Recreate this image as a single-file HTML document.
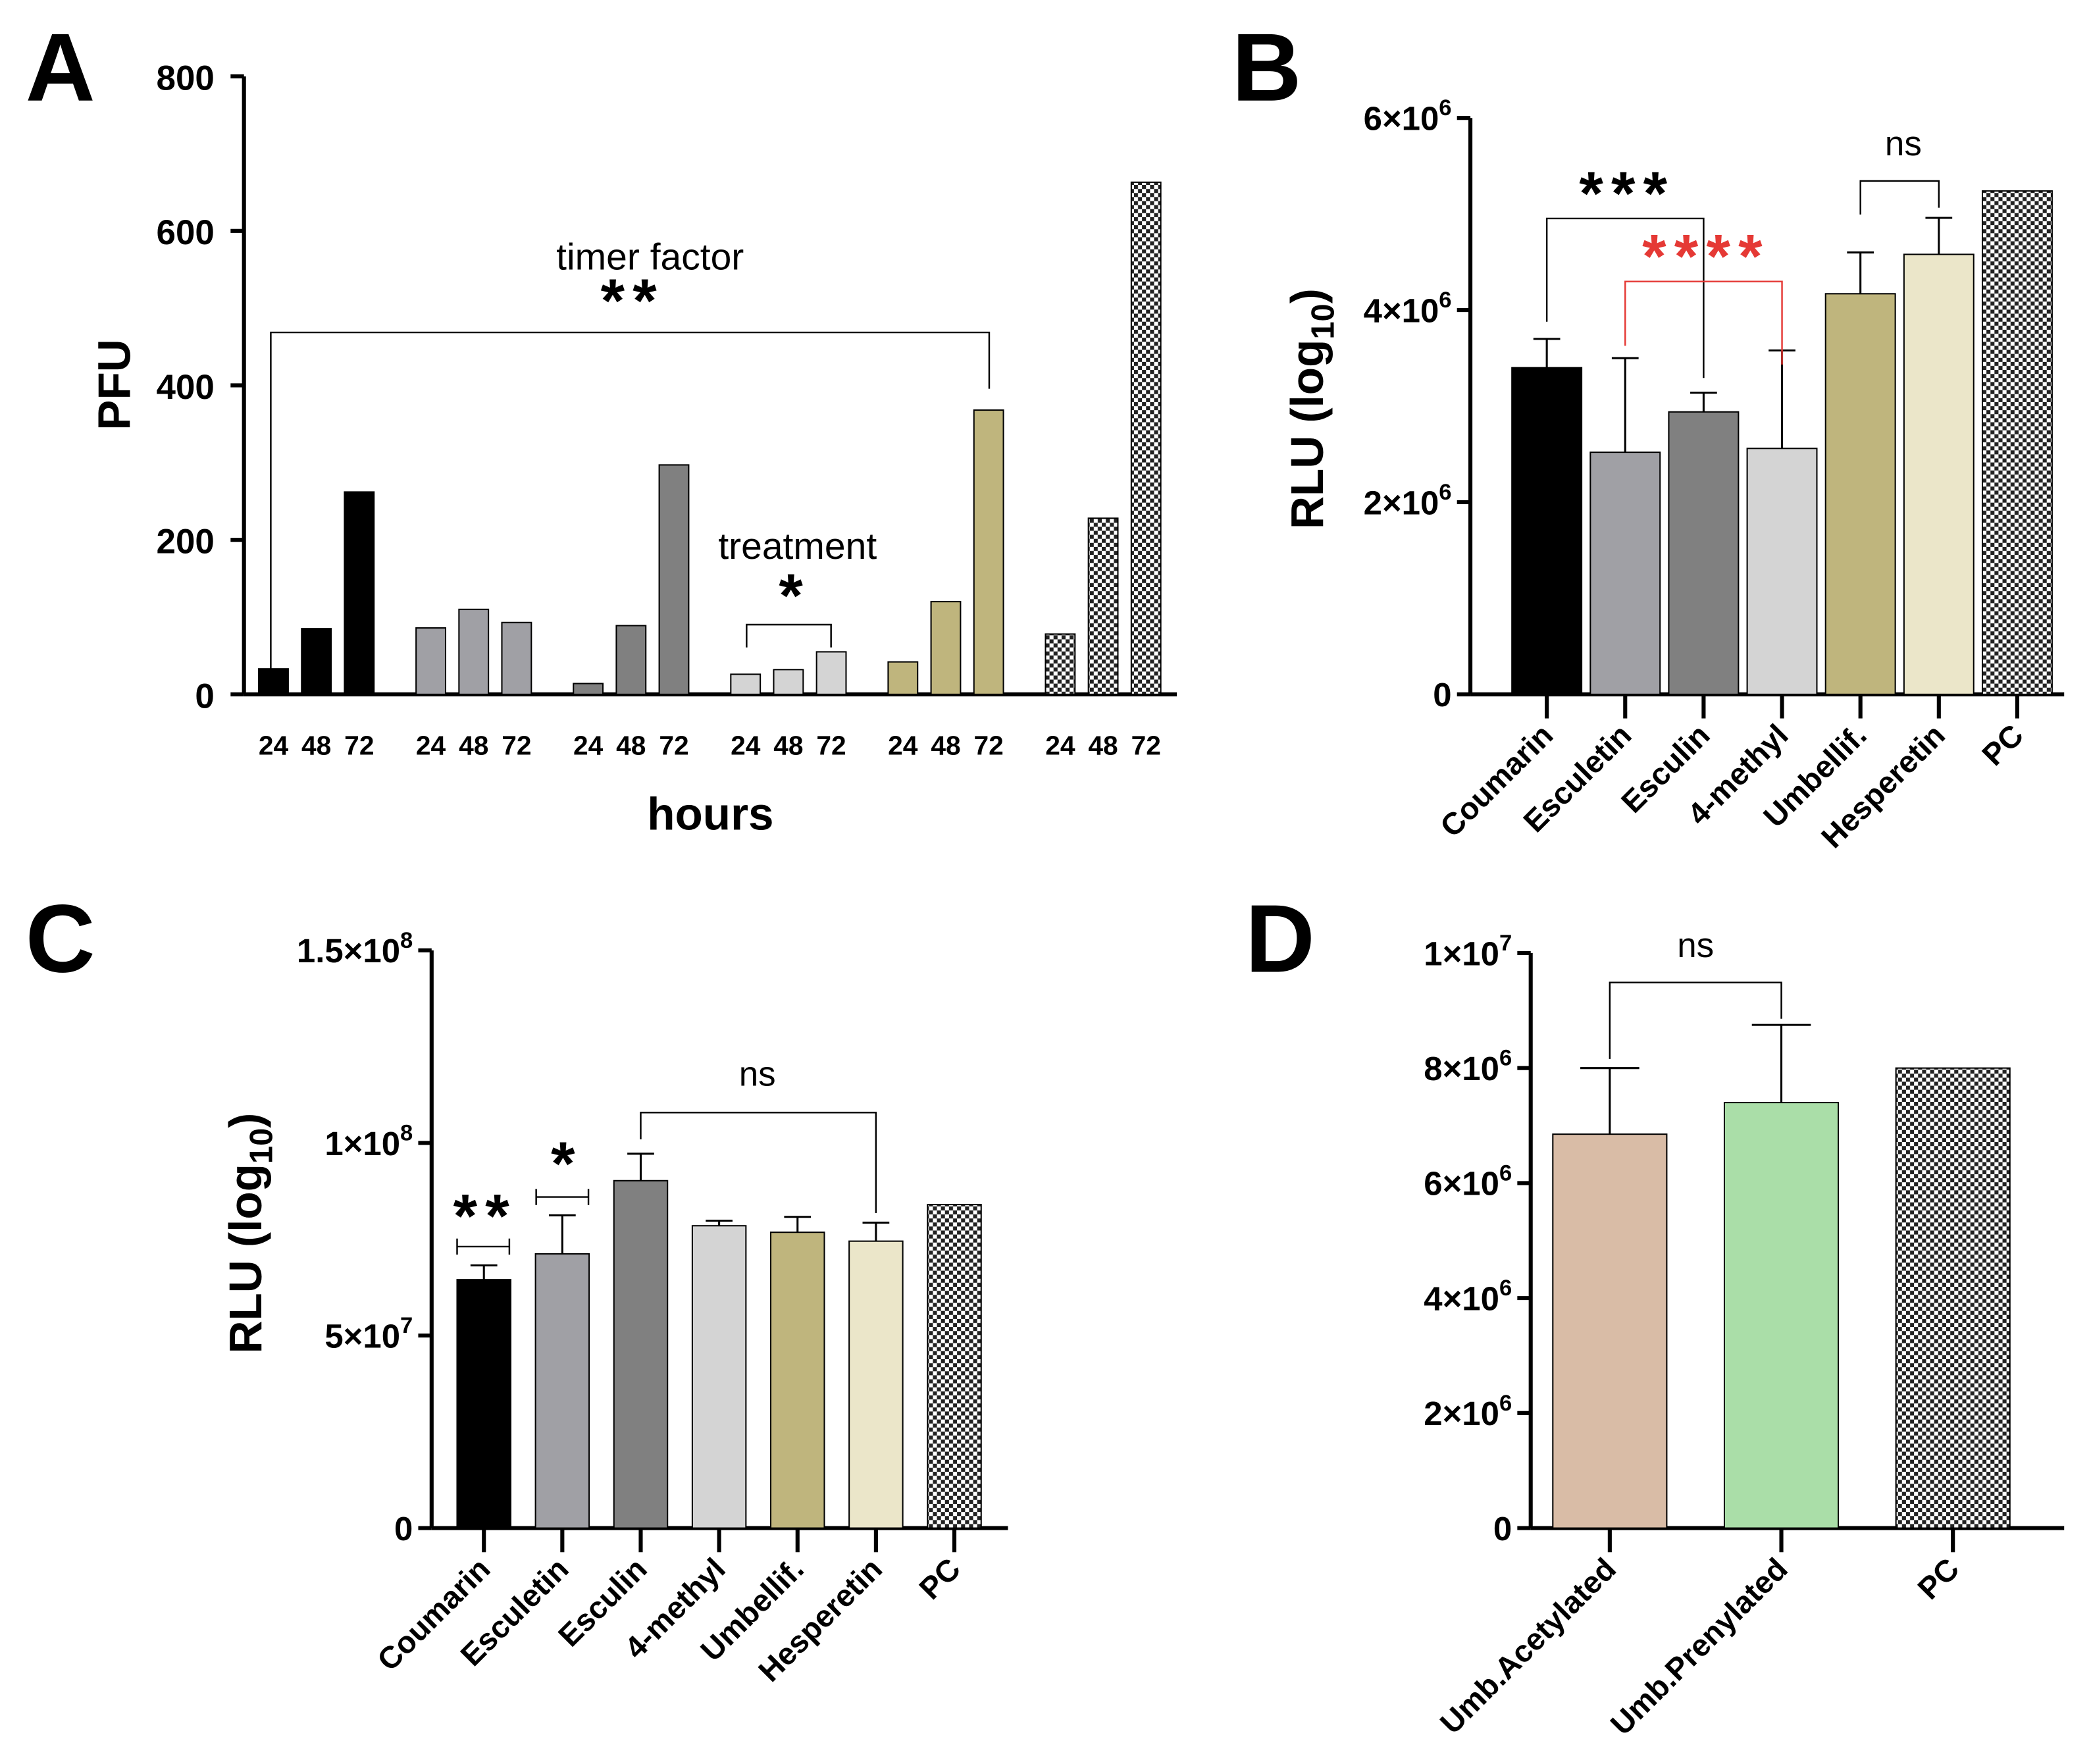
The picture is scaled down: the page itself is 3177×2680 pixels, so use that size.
<!DOCTYPE html>
<html><head><meta charset="utf-8"><style>
html,body{margin:0;padding:0;background:#fff}
svg{display:block;font-family:"Liberation Sans",Arial,sans-serif}
</style></head><body>
<svg id="fig" xmlns="http://www.w3.org/2000/svg" width="3177" height="2680" viewBox="0 0 1560 1316">
<defs>
<pattern id="chk" width="6" height="6" patternUnits="userSpaceOnUse">
<rect width="6" height="6" fill="#fff"/><rect width="3" height="3" fill="#222"/><rect x="3" y="3" width="3" height="3" fill="#222"/>
</pattern>
</defs>
</svg>
<script>
// ---- Panel A data ----
const aGroups=["g1","g2","g3","g4","g5","g6"];
const aHours=["24","48","72"];
const aValues=[[33,85,262],[86,110,93],[14,89,297],[26,32,55],[42,120,368],[78,228,663]];
const aTicks=[0,200,400,600,800];
// ---- Panel B data ----
const bCats=["Coumarin","Esculetin","Esculin","4-methyl","Umbellif.","Hesperetin","PC"];
const bValues=[3.4,2.52,2.94,2.56,4.17,4.58,5.24];
const bErr=[3.7,3.5,3.14,3.58,4.6,4.96,null];
const bTicks=[0,2,4,6];
const bTickMant=["0","2×10","4×10","6×10"];
const bTickExp=["","6","6","6"];
// ---- Panel C data ----
const cCats=["Coumarin","Esculetin","Esculin","4-methyl","Umbellif.","Hesperetin","PC"];
const cValues=[6.45,7.12,9.02,7.85,7.68,7.45,8.4];
const cErr=[6.82,8.12,9.72,7.98,8.08,7.93,null];
const cTicks=[0,5,10,15];
const cTickMant=["0","5×10","1×10","1.5×10"];
const cTickExp=["","7","8","8"];
// ---- Panel D data ----
const dCats=["Umb.Acetylated","Umb.Prenylated","PC"];
const dValues=[6.85,7.4,8.0];
const dErr=[8.0,8.75,null];
const dTicks=[0,2,4,6,8,10];
const dTickMant=["0","2×10","4×10","6×10","8×10","1×10"];
const dTickExp=["","6","6","6","6","7"];

const colors6=["#000","#a0a0a5","#808080","#d4d4d4","#bfb57d","#ebe6c9","url(#chk)"];
const svg=document.getElementById('fig');
const NS="http://www.w3.org/2000/svg";
function mk(tag,attrs,parent){const e=document.createElementNS(NS,tag);for(const k in attrs)e.setAttribute(k,attrs[k]);(parent||svg).appendChild(e);return e;}
function txt(s,x,y,size,opts,parent){opts=opts||{};const t=mk('text',{x:x,y:y,'font-size':size,'font-weight':opts.w||'bold','text-anchor':opts.a||'middle',fill:opts.fill||'#000'},parent);if(opts.ls)t.setAttribute('letter-spacing',opts.ls);if(opts.rot!==undefined)t.setAttribute('transform','rotate('+opts.rot+' '+x+' '+y+')');t.textContent=s;return t;}
function line(x1,y1,x2,y2,w,c,parent){return mk('line',{x1:x1,y1:y1,x2:x2,y2:y2,stroke:c||'#000','stroke-width':w||1},parent);}
function bracket(x1,y1,x2,y2,yTop,c,parent){return mk('polyline',{points:x1+','+y1+' '+x1+','+yTop+' '+x2+','+yTop+' '+x2+','+y2,fill:'none',stroke:c||'#000','stroke-width':1.2},parent);}

// ===== Panel A =====
(function(){
const g=mk('g',{});
const y0=518,yTop=57,max=800;const ys=v=>y0-(v/max)*(y0-yTop);
const xs=(gi,bi)=>204+gi*117.4+bi*32;
line(182,y0,878,y0,3,'#000',g);line(182,yTop,182,y0,3,'#000',g);
aTicks.forEach(t=>{line(172,ys(t),182,ys(t),3,'#000',g);const l=txt(String(t),160,ys(t)+10,26,{a:'end'},g);});
aGroups.forEach((gn,gi)=>{aHours.forEach((h,bi)=>{const v=aValues[gi][bi];const x=xs(gi,bi);
const r=mk('rect',{x:x-11,y:ys(v),width:22,height:y0-ys(v),fill:colors6[gi===5?6:gi],stroke:'#000','stroke-width':1},g);

const l=txt(h,x,563,20,{},g);});});
const ht=txt('hours',530,619,34,{},g);
const pt=txt('PFU',97,287,34,{rot:-90},g);
const L=txt('A',45,75,72,{},g);
bracket(202,500,738,290,248,'#000',g);
const tf=txt('timer factor',485,201,28,{w:'normal'},g);
txt('**',472,240,46,{ls:6},g);
bracket(557,483,620,483,466,'#000',g);
const tr=txt('treatment',595,417,28,{w:'normal'},g);
txt('*',590,460,46,{},g);
})();

function barPanel(name,cfg){
const g=mk('g',{});
const ys=v=>cfg.y0-(v/cfg.max)*(cfg.y0-cfg.yTop);
line(cfg.ax,cfg.y0,cfg.xEnd,cfg.y0,3,'#000',g);line(cfg.ax,cfg.yTop,cfg.ax,cfg.y0,3,'#000',g);
cfg.ticks.forEach((t,i)=>{line(cfg.ax-10,ys(t),cfg.ax,ys(t),3,'#000',g);
const l=txt(cfg.mant[i],cfg.ax-14,ys(t)+9,25,{a:'end'},g);
if(cfg.exp[i]){const sp=mk('tspan',{'font-size':17,dy:-11},l);sp.textContent=cfg.exp[i];}
});
cfg.cats.forEach((c,i)=>{const x=cfg.x0+i*cfg.dx;const v=cfg.values[i];
const r=mk('rect',{x:x-cfg.w/2,y:ys(v),width:cfg.w,height:cfg.y0-ys(v),fill:cfg.colors[i],stroke:'#000','stroke-width':1},g);

if(cfg.err[i]!=null){line(x,ys(v),x,ys(cfg.err[i]),1.5,'#000',g);line(x-cfg.cap,ys(cfg.err[i]),x+cfg.cap,ys(cfg.err[i]),1.5,'#000',g);}
line(x,cfg.y0,x,cfg.y0+18,3,'#000',g);
const l=txt(c,x+6,cfg.y0+32,23,{a:'end',rot:-45},g);});
const yt=txt('RLU (log',0,0,34,{rot:-90},g);yt.setAttribute('x',cfg.ylx);yt.setAttribute('y',cfg.yly);yt.setAttribute('transform','rotate(-90 '+cfg.ylx+' '+cfg.yly+')');
const sub=mk('tspan',{'font-size':24,dy:8},yt);sub.textContent='10';const cl=mk('tspan',{dy:-8},yt);cl.textContent=')';

return {g,ys,xs:i=>cfg.x0+i*cfg.dx};
}

// ===== Panel B =====
(function(){
const P=barPanel('panel-b',{y0:518,yTop:88,max:6,ax:1097,xEnd:1540,x0:1154,dx:58.5,w:52,cap:10,cats:bCats,values:bValues,err:bErr,ticks:bTicks,mant:bTickMant,exp:bTickExp,colors:colors6,ylx:987,yly:305});
const g=P.g,xs=P.xs;
const L=txt('B',945,75,72,{},g);
bracket(xs(0),240,xs(2),282,163,'#000',g);txt('***',1214,160,46,{ls:6},g);
bracket(xs(1),258,xs(3),272,210,'#e53935',g);txt('****',1273,207,46,{fill:'#e53935',ls:6},g);
bracket(xs(4),160,xs(5),155,135,'#000',g);txt('ns',1420,116,26,{w:'normal'},g);
})();

// ===== Panel C =====
(function(){
const P=barPanel('panel-c',{y0:1140,yTop:709,max:15,ax:322,xEnd:752,x0:361,dx:58.5,w:40,cap:10,cats:cCats,values:cValues,err:cErr,ticks:cTicks,mant:cTickMant,exp:cTickExp,colors:colors6,ylx:195,yly:920});
const g=P.g,xs=P.xs;
const L=txt('C',45,725,72,{},g);
line(341,930,380,930,1.2,'#000',g);line(341,924,341,936,1.2,'#000',g);line(380,924,380,936,1.2,'#000',g);txt('**',362,923,46,{ls:6},g);
line(400,893,439,893,1.2,'#000',g);line(400,887,400,899,1.2,'#000',g);line(439,887,439,899,1.2,'#000',g);txt('*',420,884,46,{},g);
bracket(xs(2),850,xs(5),905,830,'#000',g);txt('ns',565,810,26,{w:'normal'},g);
})();

// ===== Panel D =====
(function(){
const P=barPanel('panel-d',{y0:1140,yTop:711,max:10,ax:1142,xEnd:1540,x0:1201,dx:128,w:85,cap:22,cats:dCats,values:dValues,err:dErr,ticks:dTicks,mant:dTickMant,exp:dTickExp,colors:["#d9bca6","#aadea8","url(#chk)"],ylx:-100,yly:-100});
const g=P.g,xs=P.xs;
const L=txt('D',955,725,72,{},g);
bracket(xs(0),790,xs(1),760,733,'#000',g);txt('ns',1265,714,26,{w:'normal'},g);
})();
</script>
</body></html>
